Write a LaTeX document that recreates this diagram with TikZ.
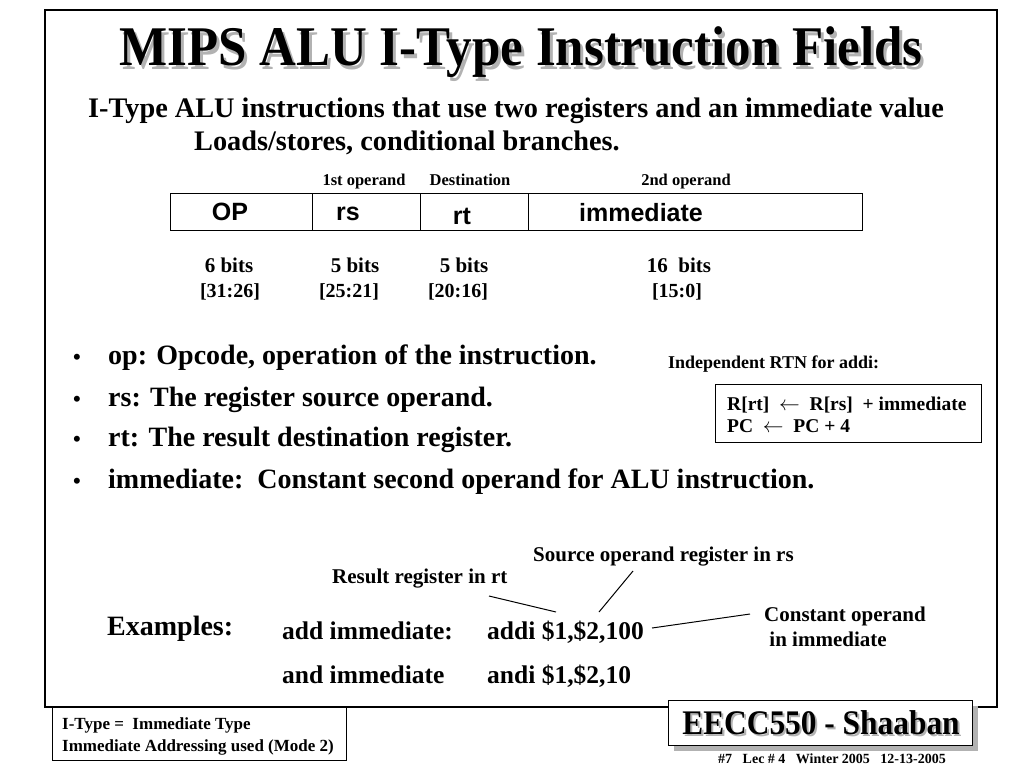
\documentclass[tikz,border=0pt]{standalone}
\usepackage{fontspec}
\setmainfont{Liberation Serif}
\newfontfamily\titlefont{Liberation Serif}[FakeStretch=0.91]
\newfontfamily\arialb{Liberation Sans}[BoldFont=* Bold]
\newcommand{\fsz}[1]{\fontsize{#1}{#1}\selectfont}
\begin{document}
\begin{tikzpicture}[x=1pt,y=-1pt,
  txt/.style={inner sep=0pt,anchor=base west,font=\bfseries},
  ctxt/.style={inner sep=0pt,anchor=base,font=\bfseries},
  frameline/.style={draw=black,line width=1.6pt},
  thin/.style={draw=black,line width=1pt}]
\useasboundingbox (0,0) rectangle (1024,768);
% outer frame
\draw[frameline] (45,10) rectangle (997,707);
% title with shadow
\node[ctxt,text=gray!60,font=\titlefont\bfseries] (titlesh) at (524,69) {\fsz{56}MIPS ALU I-Type Instruction Fields};
\node[ctxt,font=\titlefont\bfseries] (title) at (521,66) {\fsz{56}MIPS ALU I-Type Instruction Fields};
\node[txt] (sub1) at (88,117) {\fsz{28.3}I-Type ALU instructions that use two registers and an immediate value};
\node[txt] (sub2) at (194,150) {\fsz{28.3}Loads/stores, conditional branches.};
% field box
\draw[thin] (170,193) rectangle (862,230);
\draw[thin] (312,193) -- (312,230);
\draw[thin] (420,193) -- (420,230);
\draw[thin] (528,193) -- (528,230);
\node[ctxt] (l1) at (364,185) {\fsz{16.5}1st operand};
\node[ctxt] (l2) at (470,185) {\fsz{16.5}Destination};
\node[ctxt] (l3) at (686,185) {\fsz{16.5}2nd operand};
\node[ctxt,font=\arialb\bfseries] (fop) at (230,220) {\fsz{25}OP};
\node[ctxt,font=\arialb\bfseries] (frs) at (348,220) {\fsz{25}rs};
\node[ctxt,font=\arialb\bfseries] (frt) at (462,224) {\fsz{25}rt};
\node[ctxt,font=\arialb\bfseries] (fim) at (641,221) {\fsz{25}immediate};
% bits
\node[ctxt] (b1) at (229,272) {\fsz{21}6 bits};
\node[ctxt] (b2) at (355,272) {\fsz{21}5 bits};
\node[ctxt] (b3) at (464,272) {\fsz{21}5 bits};
\node[ctxt] (b4) at (679,272) {\fsz{21}16\ \ bits};
\node[ctxt] (r1) at (230,297) {\fsz{20}[31:26]};
\node[ctxt] (r2) at (349,297) {\fsz{20}[25:21]};
\node[ctxt] (r3) at (458,297) {\fsz{20}[20:16]};
\node[ctxt] (r4) at (677,297) {\fsz{20}[15:0]};
% bullets
\foreach \y/\t/\n in {364/{op: Opcode, operation of the instruction.}/a,
                      406/{rs: The register source operand.}/b,
                      446/{rt: The result destination register.}/c,
                      488/{immediate:\ \ Constant second operand for ALU instruction.}/d}{
  \node[txt] (dot\n) at (73,\y) {\fsz{22}\textbullet};
  \node[txt] (bul\n) at (108,\y) {\fsz{28}\t};
}
% RTN
\node[txt] (rtnt) at (668,368) {\fsz{18}Independent RTN for addi:};
\draw[thin] (715,384) rectangle (981,442);
\node[txt] (rtn1) at (727,410) {\fsz{19.5}R[rt]\ \ $\leftarrow$\ \ R[rs]\ \ + immediate};
\node[txt] (rtn2) at (727,432) {\fsz{19.5}PC\ \ $\leftarrow$\ \ PC + 4};
% annotations
\node[txt] (srcop) at (533,561) {\fsz{21}Source operand register in rs};
\node[txt] (resrt) at (332,583) {\fsz{21}Result register in rt};
\node[txt] (const1) at (764,621) {\fsz{21}Constant operand};
\node[txt] (const2) at (764,646) {\fsz{21}\ in immediate};
\node[txt] (ex) at (107,635) {\fsz{28}Examples:};
\node[txt] (ex1a) at (282,639) {\fsz{25.5}add immediate:};
\node[txt] (ex1b) at (487,639) {\fsz{25.5}addi \$1,\$2,100};
\node[txt] (ex2a) at (282,683) {\fsz{25.5}and immediate};
\node[txt] (ex2b) at (487,683) {\fsz{25.5}andi \$1,\$2,10};
\coordinate (p1a) at (489,596); \coordinate (p1b) at (556,612);
\coordinate (p2a) at (633,571); \coordinate (p2b) at (599,612);
\coordinate (p3a) at (652,628); \coordinate (p3b) at (750,614);
\draw[thin] (p1a) -- (p1b);
\draw[thin] (p2a) -- (p2b);
\draw[thin] (p3a) -- (p3b);
% bottom left box
\draw[thin,fill=white] (52,707) rectangle (346,760);
\node[txt] (bl1) at (62,729) {\fsz{17}I-Type =\ \ Immediate Type};
\node[txt] (bl2) at (62,751) {\fsz{17}Immediate Addressing used (Mode 2)};
% EECC box
\fill[gray!60] (674,706) rectangle (978,751);
\draw[thin,fill=white] (668,700) rectangle (972,745);
\node[ctxt,text=gray!60,font=\titlefont\bfseries] (eeccsh) at (823,736) {\fsz{34.5}EECC550 - Shaaban};
\node[ctxt,font=\titlefont\bfseries] (eecc) at (821,734) {\fsz{34.5}EECC550 - Shaaban};
\node[txt] (foot) at (718,763) {\fsz{14}\#7\ \ \ Lec \# 4\ \ \ Winter 2005\ \ \ 12-13-2005};
\end{tikzpicture}
\end{document}
